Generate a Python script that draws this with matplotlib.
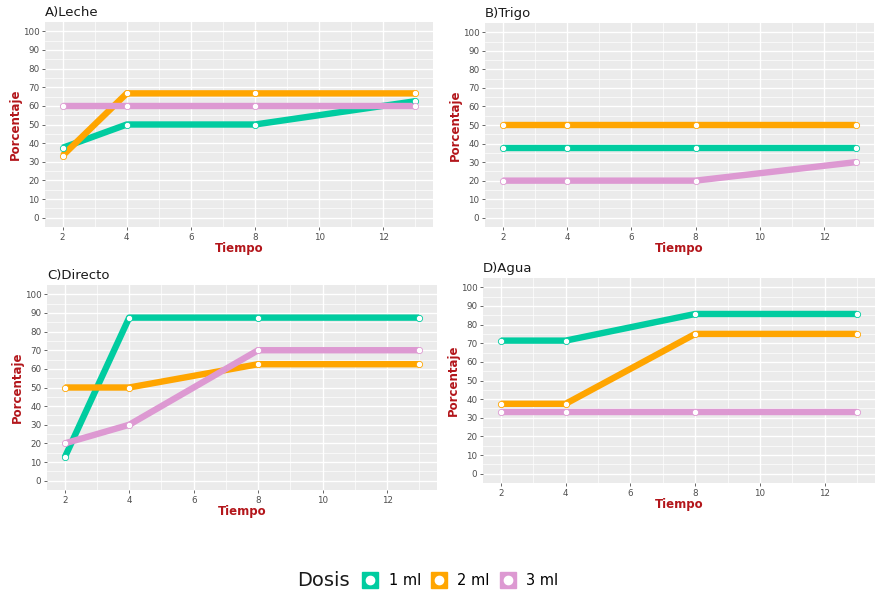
#Chart: percentage over time for three doses in four media (A-D)

import numpy as np
import matplotlib
matplotlib.use('Agg')
import matplotlib.pyplot as plt
from matplotlib.lines import Line2D

#Data
#---------------------------------
tiempo = [2, 4, 8, 13]
dosis = ['1 ml', '2 ml', '3 ml']

leche_1 = [37.5, 50, 50, 62.5]
leche_2 = [33.3, 66.7, 66.7, 66.7]
leche_3 = [60, 60, 60, 60]

trigo_1 = [37.5, 37.5, 37.5, 37.5]
trigo_2 = [50, 50, 50, 50]
trigo_3 = [20, 20, 20, 30]

directo_1 = [12.5, 87.5, 87.5, 87.5]
directo_2 = [50, 50, 62.5, 62.5]
directo_3 = [20, 30, 70, 70]

agua_1 = [71.4, 71.4, 85.7, 85.7]
agua_2 = [37.5, 37.5, 75, 75]
agua_3 = [33.3, 33.3, 33.3, 33.3]

titles = ['A)Leche', 'B)Trigo', 'C)Directo', 'D)Agua']
panels = [[leche_1, leche_2, leche_3],
          [trigo_1, trigo_2, trigo_3],
          [directo_1, directo_2, directo_3],
          [agua_1, agua_2, agua_3]]
x_ticks = [2, 4, 6, 8, 10, 12]
y_ticks = list(range(0, 101, 10))
#---------------------------------

#Styles
#---------------------------------
colors = ['#00CCA0', '#FFA500', '#DD99D2']
label_col = '#B3161B'
tick_col = '#4D4D4D'
bg = '#EBEBEB'
line_w = 4.6; marker_s = 4.5
#positions in pixels: left, top, right, bottom of each plot area
boxes = [(45, 22, 433, 227), (485, 23, 874, 227),
         (47, 285, 437, 490), (483, 278, 875, 483)]
W, H = 883, 591
#---------------------------------

fig = plt.figure(figsize=(W/100, H/100), dpi=100)

for i in range(4):
    l, t, r, b = boxes[i]
    ax = fig.add_axes([l/W, 1-b/H, (r-l)/W, (b-t)/H])
    ax.set_facecolor(bg)
    for s in ax.spines.values():
        s.set_visible(False)

    for j in range(3):
        ax.plot(tiempo, panels[i][j], color=colors[j], lw=line_w,
                solid_capstyle='butt', zorder=3)
        ax.plot(tiempo, panels[i][j], 'o', ms=marker_s, mfc='white',
                mec=colors[j], mew=0.6, zorder=4)

    ax.set_xlim(1.45, 13.55)
    ax.set_ylim(-5, 105)
    ax.set_xticks(x_ticks)
    ax.set_yticks(y_ticks)
    ax.set_xticks(np.arange(3, 14, 2), minor=True)
    ax.set_yticks(np.arange(5, 101, 10), minor=True)
    ax.grid(which='major', color='white', lw=1.0, zorder=0)
    ax.grid(which='minor', color='white', lw=0.5, zorder=0)
    ax.set_axisbelow(True)
    ax.tick_params(which='major', labelsize=6.3, colors=tick_col, length=2.5,
                   width=0.6, pad=1.5)
    ax.tick_params(which='minor', length=0)

    ax.set_xlabel('Tiempo', fontsize=8.5, fontweight='bold', color=label_col,
                  labelpad=0)
    ax.set_ylabel('Porcentaje', fontsize=8.5, fontweight='bold',
                  color=label_col, labelpad=0.5)
    ax.set_title(titles[i], loc='left', fontsize=9.5, color='#1A1A1A', pad=4)

#Legend
#---------------------------------
fig.text(0.337, 0.018, 'Dosis', fontsize=14, va='center', ha='left',
         color='#1A1A1A')
handles = []
for j in range(3):
    sq = Line2D([], [], marker='s', ms=11, color=colors[j], lw=0)
    ci = Line2D([], [], marker='o', ms=6, color='white', lw=0)
    handles.append((sq, ci))
fig.legend(handles, dosis, loc='center left', bbox_to_anchor=(0.402, 0.018),
           ncol=3, frameon=False, fontsize=10.5, handlelength=1.1,
           handletextpad=0.7, columnspacing=0.7, borderpad=0)

plt.savefig('out.png', dpi=100)
